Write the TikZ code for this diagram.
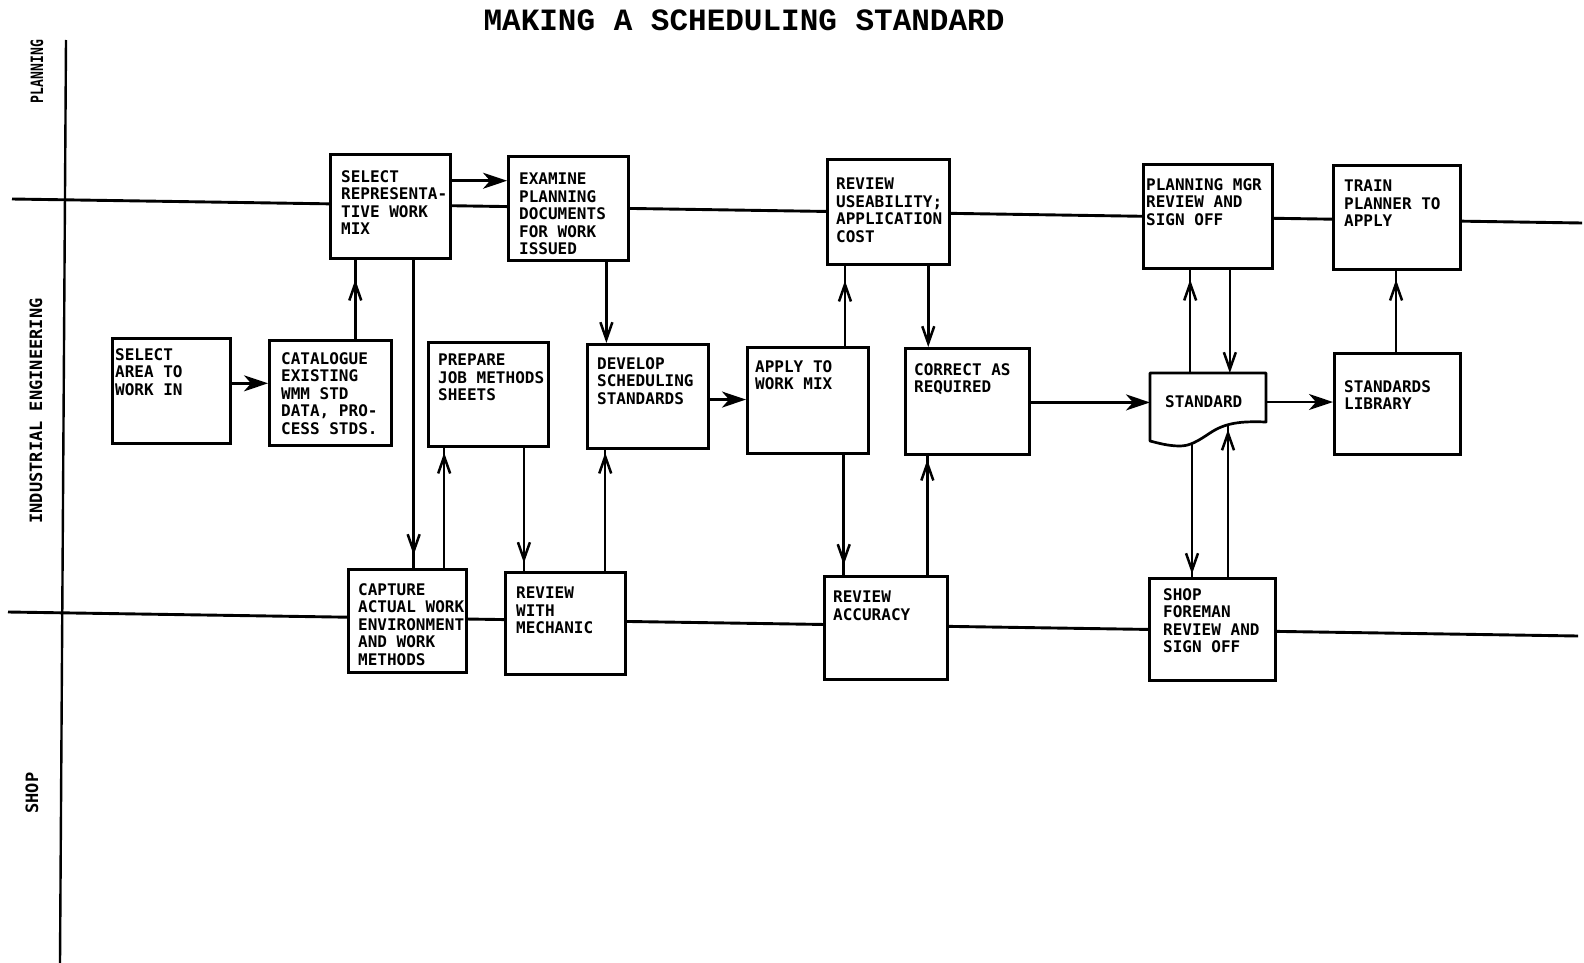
\documentclass[tikz,border=0pt]{standalone}
\usepackage{fontspec}
\newfontfamily\boxfont{DejaVu Sans Mono}
\newfontfamily\titlefont{Liberation Mono}
\usetikzlibrary{arrows.meta,calc,decorations.markings}
\begin{document}
\begin{tikzpicture}[x=1pt,y=-1pt,
  box/.style={draw, line width=2.7pt, fill=white, inner sep=0pt, anchor=north west},
  txt/.style={font=\boxfont\bfseries\fontsize{16}{17.5}\selectfont, align=left, inner sep=0pt, anchor=north west},
  lbl/.style={font=\boxfont\bfseries\fontsize{17}{20}\selectfont, inner sep=0pt},
  lane/.style={line width=2.9pt},
  conn/.style={line width=2.5pt},
  harrow/.style={-{Stealth[length=24pt,width=16pt,inset=7pt]}},
  varrow/.style={-{Straight Barb[length=17pt,width=12pt]}},
  midtip/.style={postaction={decorate},decoration={markings,mark=at position #1 with {\arrow{Straight Barb[length=17pt,width=12pt]}}}},
]
\fill[white] (0,0) rectangle (1584,963);
\useasboundingbox (0,0) rectangle (1584,963);

% title
\node[font=\titlefont\bfseries\fontsize{31}{34}\selectfont, inner sep=0pt] (title) at (744,20) {MAKING A SCHEDULING STANDARD};

% lanes
\coordinate (pl0) at (12,199); \coordinate (pl1) at (1582,223);
\coordinate (sh0) at (8,612);  \coordinate (sh1) at (1578,636);
\coordinate (vt0) at (66,40);  \coordinate (vt1) at (60,963);
\draw[lane] (pl0) -- (pl1);
\draw[lane] (sh0) -- (sh1);
\draw[line width=2.4pt] (vt0) -- (vt1);

% lane labels
\node[lbl, rotate=90] (lpl) at (37,71.5) {\scalebox{0.77}[1]{PLANNING}};
\node[lbl, rotate=90] (lie) at (36,411) {INDUSTRIAL ENGINEERING};
\node[lbl, rotate=90] (lsh) at (32,793) {SHOP};

% boxes
\node[box, minimum width=118pt, minimum height=105pt] (area)  at (111,337) {};
\node[box, minimum width=122pt, minimum height=105pt] (cat)   at (268,339) {};
\node[box, minimum width=120pt, minimum height=104pt] (sel)   at (329,153) {};
\node[box, minimum width=120pt, minimum height=104pt] (exam)  at (507,155) {};
\node[box, minimum width=120pt, minimum height=104pt] (prep)  at (427,341) {};
\node[box, minimum width=121pt, minimum height=104pt] (dev)   at (586,343) {};
\node[box, minimum width=121pt, minimum height=106pt] (apply) at (746,346) {};
\node[box, minimum width=122pt, minimum height=105pt] (revu)  at (826,158) {};
\node[box, minimum width=124pt, minimum height=106pt] (corr)  at (904,347) {};
\node[box, minimum width=129pt, minimum height=104pt] (pmgr)  at (1142,163) {};
\node[box, minimum width=127pt, minimum height=104pt] (train) at (1332,164) {};
\node[box, minimum width=126pt, minimum height=101pt] (lib)   at (1333,352) {};
\node[box, minimum width=118pt, minimum height=103pt] (capt)  at (347,568) {};
\node[box, minimum width=120pt, minimum height=102pt] (mech)  at (504,571) {};
\node[box, minimum width=123pt, minimum height=103pt] (acc)   at (823,575) {};
\node[box, minimum width=126pt, minimum height=102pt] (fore)  at (1148,577) {};
\node[inner sep=0pt, anchor=north west, minimum width=116pt, minimum height=74pt] (std) at (1150,373) {};
\begin{scope}[shift={(std.north west)}]
  \draw[line width=2.7pt, fill=white, line join=round] (0,0) -- (116,0) -- (116,49)
    .. controls (90,48) and (75,50) .. (60,60)
    .. controls (48,68) and (40,73) .. (30,73)
    .. controls (18,73) and (8,70) .. (0,68) -- cycle;
  \coordinate (wvA) at (42,70.7);
  \coordinate (wvB) at (78,51.5);
\end{scope}

% texts
\node[txt] (areat)  at ([shift={(4pt,-11pt)}]area.north west) {SELECT\\AREA TO\\WORK IN};
\node[txt] (catt)   at ([shift={(13pt,-13pt)}]cat.north west) {CATALOGUE\\EXISTING\\WMM STD\\DATA, PRO-\\CESS STDS.};
\node[txt] (selt)   at ([shift={(12pt,-17pt)}]sel.north west) {SELECT\\REPRESENTA-\\TIVE WORK\\MIX};
\node[txt] (examt)  at ([shift={(12pt,-18pt)}]exam.north west) {EXAMINE\\PLANNING\\DOCUMENTS\\FOR WORK\\ISSUED};
\node[txt] (prept)  at ([shift={(11pt,-13pt)}]prep.north west) {PREPARE\\JOB METHODS\\SHEETS};
\node[txt] (devt)   at ([shift={(11pt,-14pt)}]dev.north west) {DEVELOP\\SCHEDULING\\STANDARDS};
\node[txt] (applyt) at ([shift={(9pt,-14pt)}]apply.north west) {APPLY TO\\WORK MIX};
\node[txt] (revut)  at ([shift={(10pt,-20pt)}]revu.north west) {REVIEW\\USEABILITY;\\APPLICATION\\COST};
\node[txt] (corrt)  at ([shift={(10pt,-16pt)}]corr.north west) {CORRECT AS\\REQUIRED};
\node[txt] (pmgrt)  at ([shift={(4pt,-15pt)}]pmgr.north west) {PLANNING MGR\\REVIEW AND\\SIGN OFF};
\node[txt] (traint) at ([shift={(12pt,-16pt)}]train.north west) {TRAIN\\PLANNER TO\\APPLY};
\node[txt] (stdt)   at ([shift={(15pt,-22pt)}]std.north west) {STANDARD};
\node[txt] (libt)   at ([shift={(11pt,-28pt)}]lib.north west) {STANDARDS\\LIBRARY};
\node[txt] (captt)  at ([shift={(11pt,-15pt)}]capt.north west) {CAPTURE\\ACTUAL WORK\\ENVIRONMENT\\AND WORK\\METHODS};
\node[txt] (mecht)  at ([shift={(12pt,-16pt)}]mech.north west) {REVIEW\\WITH\\MECHANIC};
\node[txt] (acct)   at ([shift={(10pt,-16pt)}]acc.north west) {REVIEW\\ACCURACY};
\node[txt] (foret)  at ([shift={(15pt,-11pt)}]fore.north west) {SHOP\\FOREMAN\\REVIEW AND\\SIGN OFF};

% connectors
\coordinate (c1) at ($(area.north east)!0.43!(area.south east)$);
\draw[conn,harrow] (c1) -- (c1 -| cat.west);
\coordinate (c2) at ($(cat.north west)!0.70!(cat.north east)$);
\draw[conn,midtip=-20pt] (c2) -- (c2 |- sel.south);
\coordinate (c3) at ($(sel.north east)!0.26!(sel.south east)$);
\draw[conn,harrow] (c3) -- (c3 -| exam.west);
\coordinate (c4) at ($(sel.south west)!0.69!(sel.south east)$);
\draw[conn,midtip=-13pt] (c4) -- (c4 |- capt.north);
\coordinate (c5) at ($(capt.north west)!0.805!(capt.north east)$);
\draw[conn,midtip=-5pt] (c5) -- (c5 |- prep.south);
\coordinate (c6) at ($(prep.south west)!0.79!(prep.south east)$);
\draw[conn,midtip=-8pt] (c6) -- (c6 |- mech.north);
\coordinate (c7) at ($(mech.north west)!0.825!(mech.north east)$);
\draw[conn,midtip=-3pt] (c7) -- (c7 |- dev.south);
\coordinate (c8) at ($(exam.south west)!0.81!(exam.south east)$);
\draw[conn,varrow] (c8) -- (c8 |- dev.north);
\coordinate (c9) at ($(dev.north east)!0.53!(dev.south east)$);
\draw[conn,harrow] (c9) -- (c9 -| apply.west);
\coordinate (c10) at ($(apply.north west)!0.80!(apply.north east)$);
\draw[conn,midtip=-15pt] (c10) -- (c10 |- revu.south);
\coordinate (c11) at ($(revu.south west)!0.82!(revu.south east)$);
\draw[conn,varrow] (c11) -- (c11 |- corr.north);
\coordinate (c12) at ($(apply.south west)!0.79!(apply.south east)$);
\draw[conn,midtip=-10pt] (c12) -- (c12 |- acc.north);
\coordinate (c13) at ($(acc.north west)!0.83!(acc.north east)$);
\draw[conn,midtip=-4pt] (c13) -- (c13 |- corr.south);
\coordinate (c14) at ($(corr.north east)!0.51!(corr.south east)$);
\draw[conn,harrow] (c14) -- (c14 -| std.west);
\coordinate (c15) at ($(std.north west)!0.345!(std.north east)$);
\draw[conn,midtip=-10pt] (c15) -- (c15 |- pmgr.south);
\coordinate (c16) at ($(pmgr.south west)!0.667!(pmgr.south east)$);
\draw[conn,varrow] (c16) -- (c16 |- std.north);
\coordinate (c17) at ($(std.north east)!0.39!(std.south east)$);
\draw[conn,harrow] (c17) -- (c17 -| lib.west);
\coordinate (c18) at ($(lib.north west)!0.49!(lib.north east)$);
\draw[conn,midtip=-9pt] (c18) -- (c18 |- train.south);
\draw[conn,midtip=-3pt] (wvA) -- (wvA |- fore.north);
\draw[conn,midtip=-5pt] (wvB |- fore.north) -- (wvB);
\end{tikzpicture}
\end{document}
